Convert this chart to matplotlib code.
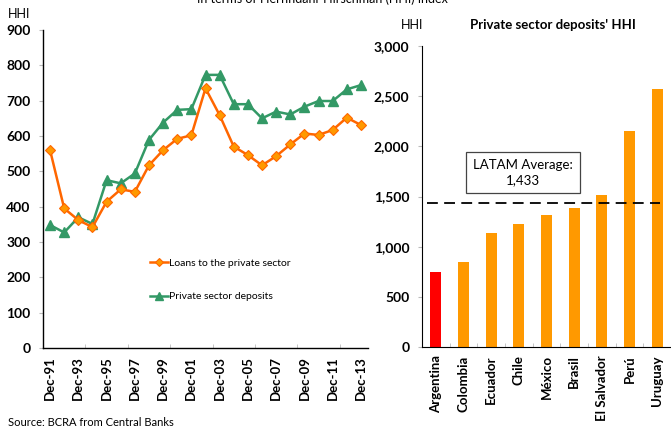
import matplotlib
matplotlib.use("Agg")
import matplotlib.pyplot as plt
import numpy as np
from matplotlib.ticker import FuncFormatter, FixedLocator

# ---------------- data ----------------
years = ["Dec-91", "Dec-92", "Dec-93", "Dec-94", "Dec-95", "Dec-96", "Dec-97", "Dec-98",
         "Dec-99", "Dec-00", "Dec-01", "Dec-02", "Dec-03", "Dec-04", "Dec-05", "Dec-06",
         "Dec-07", "Dec-08", "Dec-09", "Dec-10", "Dec-11", "Dec-12", "Dec-13"]
loans = [560, 395, 362, 342, 414, 449, 442, 517, 560, 592, 602, 735, 659, 570, 546,
         517, 543, 576, 607, 603, 617, 652, 631]
deposits = [348, 327, 370, 351, 475, 466, 494, 589, 638, 674, 676, 773, 773, 690, 690,
            650, 669, 661, 683, 699, 699, 732, 744]
year_labels = ["Dec-91", "Dec-93", "Dec-95", "Dec-97", "Dec-99", "Dec-01", "Dec-03",
               "Dec-05", "Dec-07", "Dec-09", "Dec-11", "Dec-13"]

countries = ["Argentina", "Colombia", "Ecuador", "Chile", "México", "Brasil",
             "El Salvador", "Perú", "Uruguay"]
hhi = [750, 847, 1140, 1223, 1320, 1383, 1510, 2157, 2570]
latam_avg = 1433

# ---------------- style ----------------
plt.rcParams['font.family'] = ['Lato', 'DejaVu Sans']
ORANGE_LINE = "#FF6600"
ORANGE_FILL = "#FF9900"
GREEN = "#339966"
BAR = "#FF9900"
RED = "#FF0000"

fig = plt.figure(figsize=(6.71, 4.30), dpi=100)

# ---------------- left panel ----------------
ax1 = fig.add_axes([43/671, 1-348/430, (368-43)/671, (348-30)/430])
x = np.arange(len(years))
ax1.plot(x, loans, color=ORANGE_LINE, lw=1.8, marker="D", markersize=5.5,
         markerfacecolor=ORANGE_FILL, markeredgecolor=ORANGE_LINE, markeredgewidth=0.8,
         label="Loans to the private sector", zorder=3)
ax1.plot(x, deposits, color=GREEN, lw=1.8, marker="^", markersize=7,
         markerfacecolor=GREEN, markeredgecolor=GREEN,
         label="Private sector deposits", zorder=2)
ax1.set_xlim(-0.5, len(years) - 0.5)
ax1.set_ylim(0, 900)
ax1.set_yticks(np.arange(0, 901, 100))
for s in ["top", "right"]:
    ax1.spines[s].set_visible(False)
ax1.spines["left"].set_linewidth(1.0)
ax1.spines["bottom"].set_linewidth(1.0)
ax1.tick_params(axis="y", length=3, color="#BBBBBB", labelsize=10, pad=6)
for lab in ax1.get_yticklabels():
    lab.set_fontweight("bold")
label_pos = [years.index(l) for l in year_labels]
ax1.set_xticks(label_pos)
ax1.set_xticklabels(year_labels, rotation=90, fontweight="bold", fontsize=9.5)
ax1.tick_params(axis="x", length=0, pad=6)
ax1.xaxis.set_minor_locator(FixedLocator(np.arange(2.5, len(years), 3)))
ax1.tick_params(axis="x", which="minor", direction="in", length=3, color="#BBBBBB")

leg = ax1.legend(loc="upper left", bbox_to_anchor=(0.30, 0.31), frameon=False,
                 fontsize=7.5, handlelength=1.7, handletextpad=0.1,
                 labelspacing=2.3, markerscale=0.8)

fig.text(8/671, 1-14/430, "HHI", fontsize=9, va="center", ha="left")

# ---------------- right panel ----------------
ax2 = fig.add_axes([422/671, 1-347/430, (671-422)/671, (347-46)/430])
xc = np.arange(len(countries))
colors = [RED] + [BAR] * (len(countries) - 1)
ax2.bar(xc, hhi, width=0.4, color=colors, zorder=2)
ax2.set_xlim(-0.5, len(countries) - 0.5)
ax2.set_ylim(0, 3000)
ax2.set_yticks(np.arange(0, 3001, 500))
ax2.yaxis.set_major_formatter(FuncFormatter(lambda v, p: f"{int(v):,}"))
for s in ["top", "right"]:
    ax2.spines[s].set_visible(False)
ax2.tick_params(axis="y", length=3, color="#BBBBBB", labelsize=10, pad=6)
for lab in ax2.get_yticklabels():
    lab.set_fontweight("bold")
ax2.set_xticks(xc)
ax2.set_xticklabels(countries, rotation=90, fontweight="bold", fontsize=9.5)
ax2.tick_params(axis="x", length=0, pad=6)
ax2.xaxis.set_minor_locator(FixedLocator(np.arange(0.5, len(countries) - 0.5, 1)))
ax2.tick_params(axis="x", which="minor", direction="in", length=3, color="#BBBBBB")

ax2.axhline(latam_avg, xmin=0.02, xmax=0.955, color="black", lw=1.3,
            dashes=(6, 3.5), zorder=3)
ax2.text(0.405, 1740, f"LATAM Average:\n{latam_avg:,}", transform=ax2.get_yaxis_transform(),
         ha="center", va="center", fontsize=9.5, linespacing=1.25,
         bbox=dict(boxstyle="square,pad=0.55", facecolor="white",
                   edgecolor="#444444", linewidth=0.9))

fig.text(412/671, 1-25/430, "HHI", fontsize=9, va="center", ha="center")
fig.text(553/671, 1-25/430, "Private sector deposits' HHI", fontsize=9.5,
         fontweight="bold", va="center", ha="center")

# ---------------- texts ----------------
fig.text(322/671, 1.003, "In terms of Herfindahl-Hirschman (HHI) index",
         fontsize=9, ha="center", va="center")
fig.text(8/671, 1-423/430, "Source: BCRA from Central Banks", fontsize=8,
         ha="left", va="center")

fig.savefig("out.png", dpi=100)
